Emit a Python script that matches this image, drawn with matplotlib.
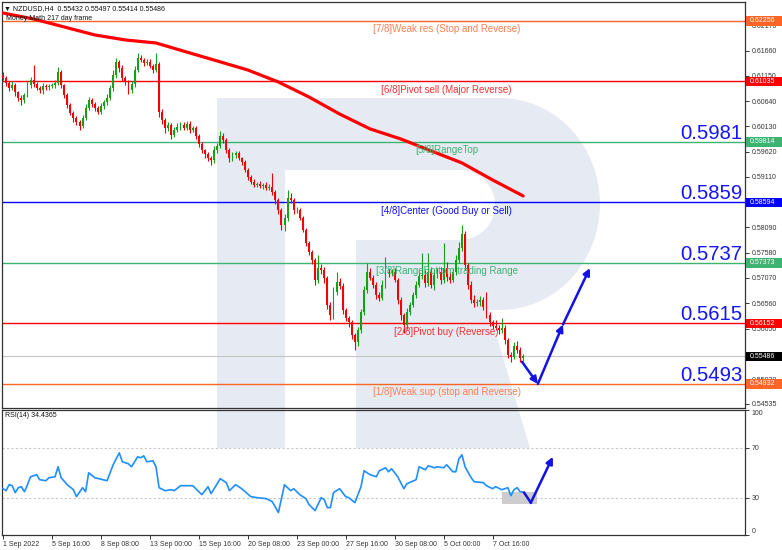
import numpy as np
import matplotlib
matplotlib.use('Agg')
import matplotlib.pyplot as plt
from matplotlib.patches import Polygon, Rectangle
from matplotlib.transforms import blended_transform_factory

plt.rcParams['font.family'] = ['Liberation Sans', 'DejaVu Sans']

# ---------------- data ----------------
first_open = 0.6117
closes = [
    0.6111, 0.6100, 0.6090, 0.6096, 0.6082, 0.6070, 0.6066, 0.6076, 0.6096, 0.6107,
    0.6098, 0.6090, 0.6086, 0.6094, 0.6092, 0.6094, 0.6096, 0.6100, 0.6123, 0.6096,
    0.6076, 0.6056, 0.6040, 0.6030, 0.6022, 0.6014, 0.6030, 0.6050, 0.6066, 0.6058,
    0.6050, 0.6042, 0.6054, 0.6062, 0.6070, 0.6090, 0.6117, 0.6143, 0.6131, 0.6111,
    0.6103, 0.6086, 0.6098, 0.6127, 0.6151, 0.6147, 0.6141, 0.6143, 0.6135, 0.6127,
    0.6139, 0.6042, 0.6026, 0.6010, 0.6016, 0.5996, 0.6006, 0.6012, 0.6016, 0.6010,
    0.6018, 0.6006, 0.6010, 0.5994, 0.5977, 0.5965, 0.5957, 0.5949, 0.5945, 0.5965,
    0.5973, 0.5994, 0.5986, 0.5965, 0.5949, 0.5955, 0.5959, 0.5949, 0.5941, 0.5925,
    0.5911, 0.5901, 0.5895, 0.5897, 0.5893, 0.5895, 0.5889, 0.5891, 0.5881, 0.5864,
    0.5844, 0.5814, 0.5828, 0.5868, 0.5864, 0.5844, 0.5844, 0.5828, 0.5804, 0.5778,
    0.5760, 0.5743, 0.5703, 0.5727, 0.5723, 0.5707, 0.5653, 0.5632, 0.5679, 0.5699,
    0.5691, 0.5642, 0.5626, 0.5618, 0.5592, 0.5578, 0.5602, 0.5638, 0.5683, 0.5719,
    0.5707, 0.5693, 0.5673, 0.5667, 0.5693, 0.5719, 0.5717, 0.5719, 0.5703, 0.5663,
    0.5632, 0.5612, 0.5638, 0.5653, 0.5673, 0.5693, 0.5711, 0.5713, 0.5697, 0.5719,
    0.5693, 0.5713, 0.5719, 0.5703, 0.5727, 0.5709, 0.5703, 0.5719, 0.5743, 0.5768,
    0.5796, 0.5733, 0.5693, 0.5663, 0.5657, 0.5659, 0.5663, 0.5649, 0.5632, 0.5618,
    0.5610, 0.5606, 0.5602, 0.5606, 0.5582, 0.5552, 0.5548, 0.5570, 0.5562, 0.5546,
    0.55486,
]
upper_wick_pips = [
    6, 4, 5, 8, 4, 3, 6, 5, 8, 6,
    30, 5, 4, 6, 5, 4, 5, 6, 10, 4,
    3, 4, 5, 3, 4, 3, 6, 8, 6, 4,
    5, 4, 6, 5, 8, 6, 10, 8, 4, 5,
    4, 3, 6, 8, 10, 5, 4, 6, 5, 4,
    22, 4, 5, 4, 6, 4, 5, 8, 6, 5,
    6, 5, 4, 4, 3, 4, 3, 4, 5, 8,
    6, 10, 5, 3, 4, 6, 5, 4, 3, 4,
    4, 3, 5, 4, 5, 4, 6, 5, 28, 4,
    5, 4, 8, 16, 10, 5, 6, 5, 4, 4,
    4, 4, 5, 26, 8, 6, 4, 5, 10, 20,
    8, 5, 4, 5, 4, 4, 6, 6, 8, 18,
    8, 6, 5, 5, 10, 30, 8, 6, 8, 4,
    5, 4, 8, 6, 6, 8, 10, 44, 10, 38,
    10, 12, 8, 10, 50, 12, 10, 8, 10, 12,
    18, 6, 5, 8, 10, 6, 8, 6, 30, 6,
    5, 12, 6, 20, 6, 4, 6, 8, 10, 5,
    4,
]
lower_wick_pips = [
    4, 5, 6, 4, 8, 6, 10, 5, 4, 6,
    5, 4, 6, 8, 5, 6, 4, 5, 4, 6,
    5, 6, 4, 8, 6, 8, 5, 4, 5, 6,
    6, 5, 4, 6, 5, 4, 5, 6, 8, 6,
    6, 8, 6, 5, 4, 5, 6, 4, 5, 6,
    4, 10, 8, 10, 6, 8, 5, 4, 6, 5,
    4, 6, 5, 6, 5, 6, 8, 5, 10, 6,
    5, 4, 6, 5, 8, 6, 5, 4, 6, 5,
    6, 5, 4, 5, 4, 6, 5, 4, 6, 8,
    8, 10, 12, 6, 5, 8, 6, 5, 4, 6,
    6, 8, 10, 6, 8, 10, 8, 10, 8, 6,
    6, 8, 6, 10, 8, 16, 8, 6, 5, 6,
    5, 6, 8, 6, 5, 6, 8, 6, 5, 8,
    10, 16, 8, 6, 5, 6, 5, 6, 8, 6,
    6, 10, 6, 8, 6, 8, 6, 5, 6, 5,
    6, 10, 8, 6, 8, 6, 8, 6, 5, 8,
    6, 5, 8, 6, 8, 6, 10, 5, 6, 8,
    6,
]

ma_bars = list(range(0, 171, 10))
ma_vals = [0.62417, 0.62296, 0.62135, 0.61974, 0.61873, 0.61812, 0.61630, 0.61449,
           0.61267, 0.61025, 0.60722, 0.60379, 0.60077, 0.59875, 0.59633, 0.59391,
           0.59048, 0.58725]

rsi_bars = [0, 1, 2, 3, 4, 5, 6, 7, 8, 9, 11, 12, 14, 15, 17, 18, 19, 21, 23, 24,
            26, 27, 28, 30, 34, 36, 38, 39, 41, 42, 44, 45, 46, 47, 49, 50, 51, 53,
            55, 56, 58, 60, 62, 64, 65, 67, 68, 71, 73, 74, 76, 78, 81, 83, 86, 88,
            90, 92, 94, 95, 97, 99, 100, 102, 104, 105, 106, 107, 108, 110, 112, 113,
            115, 117, 118, 120, 122, 123, 125, 126, 127, 129, 131, 132, 135, 136, 138,
            139, 141, 142, 144, 145, 147, 148, 149, 150, 151, 153, 154, 157, 158, 160,
            161, 163, 165, 166, 167, 168, 169, 170]
rsi_vals = [37.2, 35.6, 40.4, 39.6, 34.0, 38.0, 38.8, 34.8, 40.4, 46.8, 48.4, 44.4,
            43.6, 46.0, 46.8, 54.8, 46.0, 40.4, 36.4, 30.8, 38.0, 34.8, 50.0, 46.0,
            43.6, 56.4, 66.0, 58.8, 57.2, 54.8, 62.8, 62.0, 63.6, 58.8, 59.6, 54.8,
            38.0, 35.6, 36.4, 35.6, 39.6, 39.6, 39.6, 34.8, 32.4, 38.8, 33.2, 45.2,
            42.0, 35.6, 40.4, 37.2, 30.8, 30.0, 29.2, 26.8, 18.0, 40.4, 35.6, 37.2,
            32.4, 29.2, 24.4, 19.6, 30.0, 28.4, 22.0, 22.0, 34.0, 37.2, 30.8, 30.0,
            26.0, 38.8, 51.6, 48.4, 46.8, 51.6, 54.0, 50.8, 53.2, 46.8, 37.2, 41.2,
            44.4, 54.8, 52.4, 55.6, 54.0, 54.8, 54.0, 56.4, 50.8, 50.8, 61.2, 64.4,
            54.8, 46.0, 42.8, 42.0, 39.6, 37.2, 38.8, 36.4, 38.0, 31.6, 36.4, 38.0,
            34.8, 34.4365]

levels = [0.62256, 0.61035, 0.59814, 0.58594, 0.57373, 0.56152, 0.54932]
level_names = ['[7/8]Weak res (Stop and Reverse)', '[6/8]Pivot sell (Major Reverse)',
               '[5/8]RangeTop', '[4/8]Center (Good Buy or Sell)',
               '[3/8]RangeBottom trading Range', '[2/8]Pivot buy (Reverse)',
               '[1/8]Weak sup (stop and Reverse)']
level_big = ['', '', '0.5981', '0.5859', '0.5737', '0.5615', '0.5493']
current_price = 0.55486

price_ticks = [0.62170, 0.61660, 0.61150, 0.60640, 0.60130, 0.59620, 0.59110,
               0.58600, 0.58090, 0.57580, 0.57070, 0.56560, 0.56050, 0.55540,
               0.55030, 0.54535]
# tick values whose labels are fully hidden behind the level price boxes
hidden_tick_labels = [0.58600, 0.55540]
x_tick_bars = [0, 16, 32, 48, 64, 80, 96, 112, 128, 144, 160]
x_tick_labels = ['1 Sep 2022', '5 Sep 16:00', '8 Sep 08:00', '13 Sep 00:00',
                 '15 Sep 16:00', '20 Sep 08:00', '23 Sep 00:00', '27 Sep 16:00',
                 '30 Sep 08:00', '5 Oct 00:00', '7 Oct 16:00']

# forecast arrows (bar, value)
price_arrow_bars = [169.6, 174.8, 183.0, 191.8]
price_arrow_vals = [0.5538, 0.54932, 0.5613, 0.5727]
rsi_arrow_bars = [170.3, 172.5, 179.7]
rsi_arrow_vals = [34.0, 26.0, 62.8]
rsi_box_bars = [163.0, 174.5]
rsi_box_vals = [25.2, 34.8]

header = '\u25bc NZDUSD,H4  0.55432 0.55497 0.55414 0.55486'
subheader = 'Money Math 217 day frame'
rsi_title = 'RSI(14) 34.4365'

# ---------------- styles ----------------
W, H = 782, 550
C_ORANGE = '#FF6626'
C_RED = '#FF0000'
C_GREEN = '#3CB371'
C_BLUE = '#0000FF'
level_colors = [C_ORANGE, C_RED, C_GREEN, C_BLUE, C_GREEN, C_RED, C_ORANGE]
text_colors = ['#FF7F50', '#F03030', '#3CB371', '#1010FF', '#3CB371', '#F03030', '#FF7F50']
BULL = '#16A016'
BEAR = '#F50000'
AX_COL = '#333333'

fig = plt.figure(figsize=(W / 100, H / 100), dpi=100)
fig.patch.set_facecolor('white')


def fx(px):
    return px / W


def fy(py):
    return 1 - py / H


# watermark "R"
wm = '#E6EBF3'
stem = [(217, 98), (285, 98), (285, 448), (217, 448)]
t = np.linspace(np.pi / 2, -np.pi / 2, 50)
outer_arc = [(500 + 100 * np.cos(a), 204 - 106 * np.sin(a)) for a in t]
inner_arc = [(460 + 35 * np.cos(a), 205 + 35 * np.sin(a)) for a in t]
bowl = [(285, 98)] + outer_arc + [(356, 310), (356, 240)] + inner_arc + [(285, 170)]
leg = [(356, 300), (486, 300), (530, 448), (356, 448)]
for shape in (stem, bowl, leg):
    fig.add_artist(Polygon([(fx(x), fy(y)) for x, y in shape], closed=True,
                           transform=fig.transFigure, fc=wm, ec='none', zorder=-5))

ax = fig.add_axes([fx(2), fy(408), fx(745) - fx(2), fy(2) - fy(408)])
axr = fig.add_axes([fx(2), fy(535), fx(745) - fx(2), fy(410) - fy(535)])
for a in (ax, axr):
    a.set_facecolor('none')
    for s in a.spines.values():
        s.set_color(AX_COL)
        s.set_linewidth(0.9)

xlim = (-0.33, 242.5)
ax.set_xlim(*xlim)
axr.set_xlim(*xlim)
ax.set_ylim(0.54446, 0.62639)
axr.set_ylim(0.4, 100.4)

# candles
n = len(closes)
opens = [first_open] + closes[:-1]
xs = np.arange(n)
o = np.array(opens)
c = np.array(closes)
hi = np.maximum(o, c) + np.array(upper_wick_pips) * 0.0001
lo = np.minimum(o, c) - np.array(lower_wick_pips) * 0.0001
cols = [BULL if cc >= oo else BEAR for oo, cc in zip(o, c)]
ax.vlines(xs, lo, hi, colors=cols, linewidth=0.8, zorder=3)
body = np.maximum(np.abs(c - o), 0.00005)
ax.bar(xs, body, bottom=np.minimum(o, c), width=0.62, color=cols, linewidth=0, zorder=4)

# moving average
ax.plot(ma_bars, ma_vals, color='#FF0000', lw=2.3, solid_capstyle='round', zorder=5)

# levels
for lv, name, big, lc, tc in zip(levels, level_names, level_big, level_colors, text_colors):
    ax.axhline(lv, color=lc, lw=1.0, zorder=2)
    ax.annotate(name, xy=(145, lv), xytext=(0, -2.2), textcoords='offset points',
                ha='center', va='top', fontsize=7, color=tc, zorder=6)
    if big:
        ax.annotate(big, xy=(0.996, lv), xycoords=('axes fraction', 'data'),
                    xytext=(0, 2.2), textcoords='offset points', ha='right',
                    va='baseline', fontsize=14.6, color='#1414FF', zorder=6)
ax.axhline(current_price, color='#C4C4C4', lw=0.8, zorder=1)

# forecast arrows in price panel
for k in range(3):
    ax.annotate('', xy=(price_arrow_bars[k + 1], price_arrow_vals[k + 1]),
                xytext=(price_arrow_bars[k], price_arrow_vals[k]),
                arrowprops=dict(arrowstyle='-|>', color='#1212E6', lw=1.8,
                                mutation_scale=10, shrinkA=0, shrinkB=0), zorder=7)

# axes ticks
ax.set_xticks([])
ax.yaxis.tick_right()
ax.set_yticks(price_ticks)
ax.set_yticklabels(['' if v in hidden_tick_labels else '%.5f' % v for v in price_ticks])
ax.tick_params(axis='y', labelsize=5, length=3, width=0.7, pad=1.5,
               colors=AX_COL, direction='out')

# price labels on the right
box_vals = levels + [current_price]
box_cols = level_colors + ['#000000']
btr = blended_transform_factory(fig.transFigure, ax.transData)
for v, bc in zip(box_vals, box_cols):
    fig.add_artist(Rectangle((fx(746), v - 0.00099), fx(36), 0.00198, transform=btr,
                             fc=bc, ec='none', zorder=8))
    fig.text(fx(749.5), v, '%.5f' % v, transform=btr, fontsize=5, color='white',
             va='center', ha='left', zorder=9)

# header texts
fig.text(fx(4), fy(8.5), header, fontsize=5, color='#111111', va='center', ha='left')
fig.text(fx(6), fy(19), subheader, fontsize=5, color='#111111', va='center', ha='left')
fig.text(fx(5), fy(415.5), rsi_title, fontsize=5, color='#111111', va='center', ha='left')

# RSI panel
axr.axhline(70, color='#C8C8C8', lw=0.8, ls=(0, (2, 2)), zorder=1)
axr.axhline(30, color='#C8C8C8', lw=0.8, ls=(0, (2, 2)), zorder=1)
axr.add_patch(Rectangle((rsi_box_bars[0], rsi_box_vals[0]),
                        rsi_box_bars[1] - rsi_box_bars[0],
                        rsi_box_vals[1] - rsi_box_vals[0],
                        fc='#CDCDCD', ec='none', zorder=2))
axr.plot(rsi_bars, rsi_vals, color='#1E8FFF', lw=1.2, zorder=4)
axr.plot(rsi_arrow_bars[:2], rsi_arrow_vals[:2], color='#1212E6', lw=1.8, zorder=5)
axr.annotate('', xy=(rsi_arrow_bars[2], rsi_arrow_vals[2]),
             xytext=(rsi_arrow_bars[1], rsi_arrow_vals[1]),
             arrowprops=dict(arrowstyle='-|>', color='#1212E6', lw=1.8,
                             mutation_scale=10, shrinkA=0, shrinkB=0), zorder=6)

axr.yaxis.tick_right()
axr.set_yticks([0, 30, 70, 100])
ylabs = axr.set_yticklabels(['0', '30', '70', '100'])
ylabs[0].set_va('bottom')
ylabs[3].set_va('top')
axr.tick_params(axis='y', labelsize=5, length=3, width=0.7, pad=1.5, colors=AX_COL)
axr.set_xticks(x_tick_bars, x_tick_labels, ha='left')
axr.tick_params(axis='x', labelsize=5, length=3, width=0.7, pad=1.5, colors=AX_COL)

fig.savefig('out.png', dpi=100, facecolor='white')
